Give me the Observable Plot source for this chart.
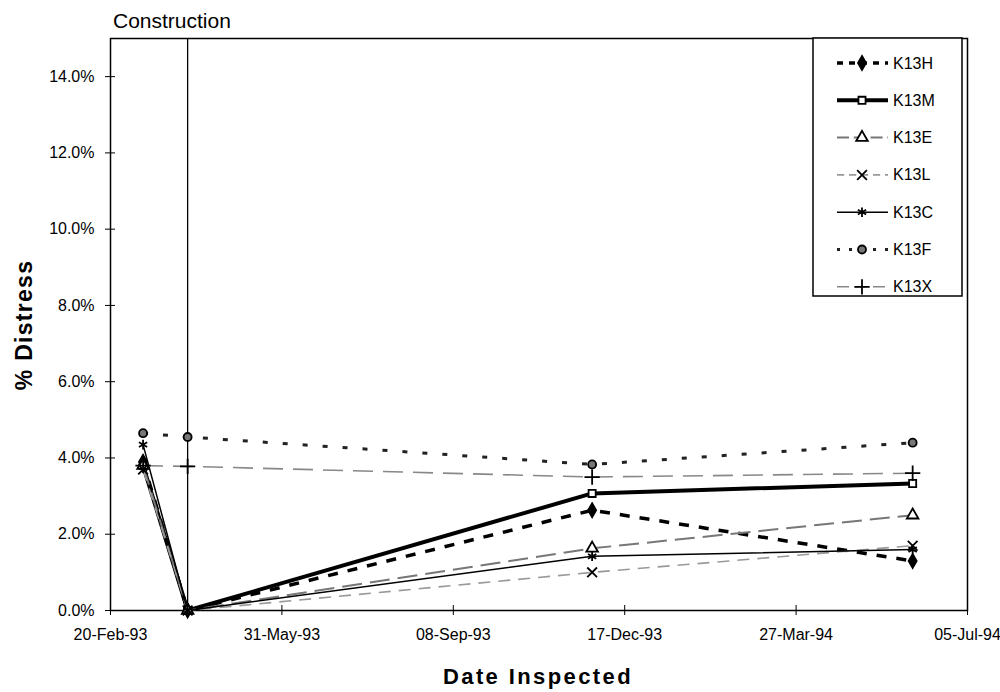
<!DOCTYPE html>
<html>
<head>
<meta charset="utf-8">
<script src="https://cdn.jsdelivr.net/npm/d3@7"></script>
<script src="https://cdn.jsdelivr.net/npm/@observablehq/plot@0.6"></script>
<style>
  html, body { margin: 0; padding: 0; background: white; }
  #chart { width: 1000px; height: 692px; }
  svg text { font-family: "Liberation Sans", Arial, sans-serif; }
</style>
</head>
<body>
<div id="chart"></div>
<script>
// ---------- data ----------
const inspectionDates = ["1993-03-11", "1993-04-06", "1993-11-28", "1994-06-03"];
const constructionDate = "1993-04-06";
const seriesNames = ["K13H", "K13M", "K13E", "K13L", "K13C", "K13F", "K13X"];
const k13H = [3.90, 0.00, 2.63, 1.30];
const k13M = [3.80, 0.00, 3.07, 3.33];
const k13E = [3.80, 0.00, 1.63, 2.50];
const k13L = [3.70, 0.00, 1.00, 1.70];
const k13C = [4.35, 0.00, 1.42, 1.60];
const k13F = [4.65, 4.55, 3.83, 4.40];
const k13X = [3.80, 3.78, 3.50, 3.60];
const yTicks = [0, 2, 4, 6, 8, 10, 12, 14];
const xTickLabels = ["20-Feb-93", "31-May-93", "08-Sep-93", "17-Dec-93", "27-Mar-94", "05-Jul-94"];
const xDomain = ["1993-02-20", "1994-07-05"];
const titleText = "Construction";
const xTitle = "Date Inspected";
const yTitle = "% Distress";

// ---------- styles ----------
const seriesValues = [k13H, k13M, k13E, k13L, k13C, k13F, k13X];
const styles = {
  K13H: {stroke: "#000", strokeWidth: 3.5, dash: "10,10", symbol: "diamond", fill: "#000", dstroke: "#000", r: 4.2},
  K13M: {stroke: "#000", strokeWidth: 4, dash: null, symbol: "square", fill: "#fff", dstroke: "#000", r: 4},
  K13E: {stroke: "#777", strokeWidth: 2, dash: "20,8", symbol: "triangle", fill: "#fff", dstroke: "#000", r: 4.3},
  K13L: {stroke: "#999", strokeWidth: 1.6, dash: "12,8", symbol: "times", fill: "none", dstroke: "#000", r: 4.5},
  K13C: {stroke: "#000", strokeWidth: 1.5, dash: null, symbol: "asterisk", fill: "none", dstroke: "#000", r: 4.5},
  K13F: {stroke: "#222", strokeWidth: 3, dash: "5,15", symbol: "circle", fill: "#777", dstroke: "#000", r: 4},
  K13X: {stroke: "#888", strokeWidth: 1.6, dash: "20,10", symbol: "plus", fill: "none", dstroke: "#000", r: 5}
};

const parse = d3.utcParse("%Y-%m-%d");
const rows = seriesNames.flatMap((s, i) =>
  inspectionDates.map((d, j) => ({series: s, date: parse(d), value: seriesValues[i][j]})));
const xTickDates = xTickLabels.map(d3.utcParse("%d-%b-%y"));
const fmtX = d3.utcFormat("%d-%b-%y");
const fmtY = d => d.toFixed(1) + "%";

const marks = [
  Plot.frame({stroke: "#000", strokeWidth: 1.5}),
  Plot.ruleX([parse(constructionDate)], {stroke: "#000", strokeWidth: 1.3}),
  Plot.axisY({ticks: yTicks, tickSize: 10, dx: 5, tickPadding: 11, tickFormat: fmtY, fontSize: 16}),
  Plot.axisX({ticks: xTickDates, tickSize: 10, dy: -5, tickPadding: 13, tickFormat: fmtX, fontSize: 16})
];
for (const s of seriesNames) {
  const st = styles[s];
  const data = rows.filter(r => r.series === s);
  marks.push(Plot.line(data, {x: "date", y: "value", stroke: st.stroke, strokeWidth: st.strokeWidth,
    strokeDasharray: st.dash, strokeLinecap: "butt"}));
}
for (const s of seriesNames) {
  const st = styles[s];
  const data = rows.filter(r => r.series === s);
  marks.push(Plot.dot(data, {x: "date", y: "value", symbol: () => st.symbol, r: st.r,
    fill: st.fill, stroke: st.dstroke, strokeWidth: 1.8}));
}

const chart = Plot.plot({
  width: 1000,
  height: 692,
  marginLeft: 110,
  marginRight: 33,
  marginTop: 38,
  marginBottom: 82,
  style: {fontFamily: "Liberation Sans, Arial, sans-serif", fontSize: "16px", background: "white", color: "#000"},
  x: {type: "utc", domain: xDomain.map(parse), label: null},
  y: {domain: [0, 15], label: null},
  symbol: {type: "identity"},
  marks
});
document.getElementById("chart").appendChild(chart);

// ---------- titles ----------
const svg = d3.select(chart);
svg.append("text").attr("x", 113).attr("y", 28).attr("text-anchor", "start")
  .attr("font-size", 21).attr("fill", "#000").text(titleText);
svg.append("text").attr("x", 538).attr("y", 684).attr("text-anchor", "middle")
  .attr("font-size", 22).attr("font-weight", "bold").attr("letter-spacing", 2.4).attr("fill", "#000").text(xTitle);
svg.append("text").attr("transform", "translate(32,325) rotate(-90)").attr("text-anchor", "middle")
  .attr("font-size", 23).attr("font-weight", "bold").attr("letter-spacing", 1.3).attr("fill", "#000").text(yTitle);

// ---------- legend ----------
const symbolTypes = {diamond: d3.symbolDiamond, square: d3.symbolSquare, triangle: d3.symbolTriangle,
  times: d3.symbolTimes || d3.symbolCross, asterisk: d3.symbolAsterisk || d3.symbolStar,
  circle: d3.symbolCircle, plus: d3.symbolPlus || d3.symbolCross};
const lg = svg.append("g");
lg.append("rect").attr("x", 813).attr("y", 38).attr("width", 149).attr("height", 258)
  .attr("fill", "white").attr("stroke", "#000").attr("stroke-width", 1.5);
seriesNames.forEach((s, i) => {
  const st = styles[s];
  const y = 63 + i * 37.3;
  lg.append("line").attr("x1", 837).attr("x2", 888).attr("y1", y).attr("y2", y)
    .attr("stroke", st.stroke).attr("stroke-width", st.strokeWidth)
    .attr("stroke-dasharray", st.dash ? st.dash.split(",").map(v => v * 0.6).join(",") : null);
  lg.append("path").attr("transform", `translate(862,${y})`)
    .attr("d", d3.symbol(symbolTypes[st.symbol], Math.PI * st.r * st.r)())
    .attr("fill", st.fill).attr("stroke", st.dstroke).attr("stroke-width", 1.8);
  lg.append("text").attr("x", 893).attr("y", y + 5.5).attr("text-anchor", "start")
    .attr("font-size", 16).attr("fill", "#000").text(s);
});
</script>
</body>
</html>
